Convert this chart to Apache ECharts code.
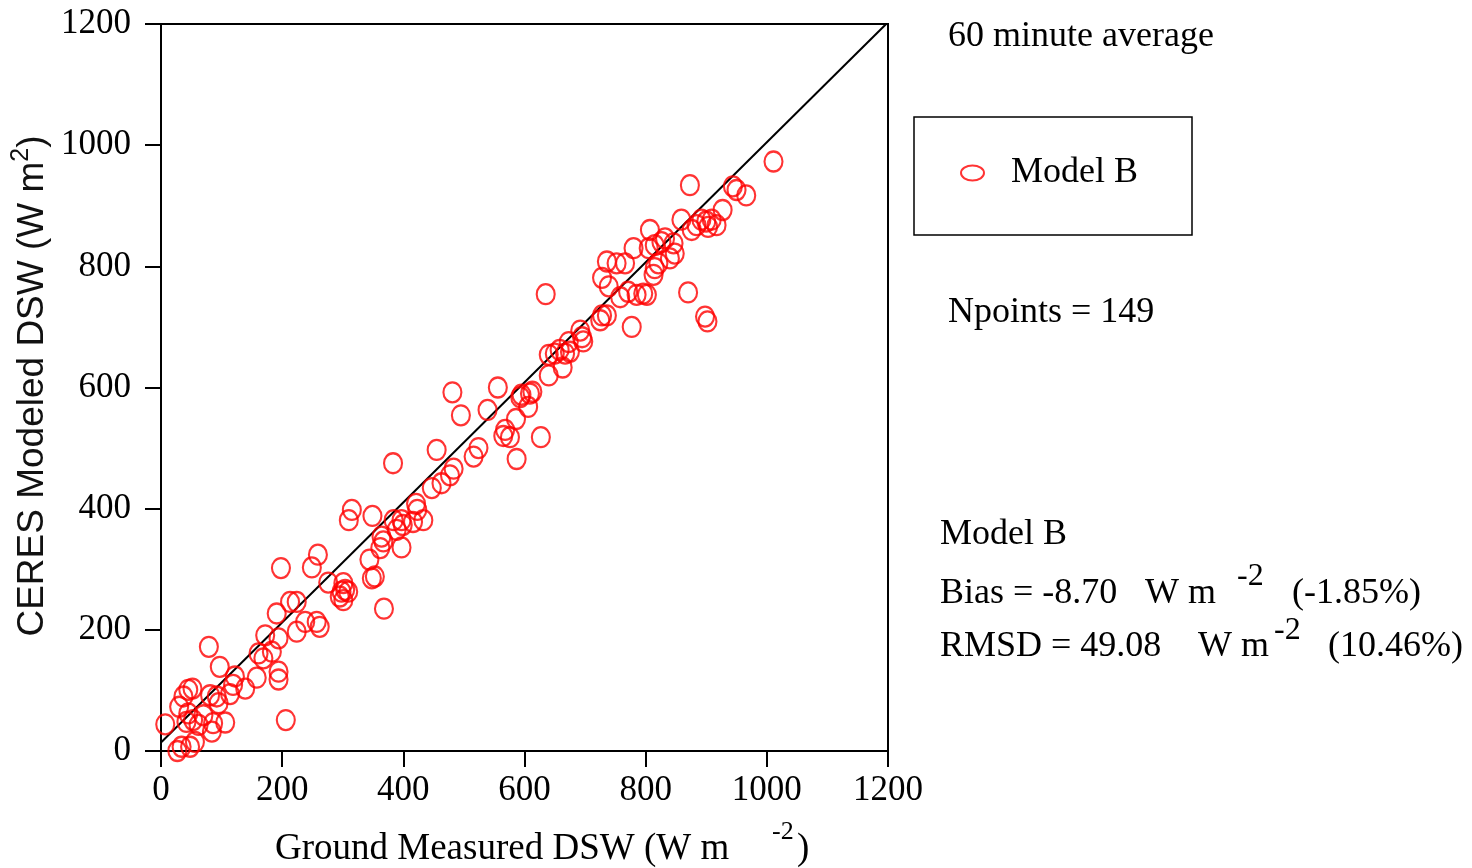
<!DOCTYPE html>
<html>
<head>
<meta charset="UTF-8">
<title>CERES DSW vs Ground</title>
<script src="https://cdn.jsdelivr.net/npm/echarts@6/dist/echarts.min.js"></script>
<style>
	html, body{
		margin:0;
		padding:0;
		background:#fff;
	}
	#chart{
		width:1472px;
		height:868px;
	}
</style>
</head>
<body>
<div id="chart"></div>
<script>
// ground measured DSW (x) and CERES modeled DSW (y), W m-2
var ground = [
	7, 27, 34, 48, 56, 30, 45, 52, 37, 45, 53, 42, 62, 70, 84, 86, 106, 81, 92, 95,
	114, 119, 122, 97, 79, 139, 158, 194, 194, 206, 161, 169, 183, 172, 194, 191, 224, 238, 257, 262,
	213, 224, 198, 249, 259, 276, 301, 304, 298, 309, 301, 295, 315, 310, 349, 384, 397, 399, 389, 416,
	421, 423, 433, 364, 367, 362, 397, 344, 348, 353, 368, 383, 455, 483, 477, 463, 447, 524, 516, 481,
	556, 495, 539, 595, 609, 613, 606, 586, 568, 565, 576, 627, 587, 593, 640, 650, 658, 667, 675, 663,
	640, 697, 692, 695, 673, 635, 725, 728, 736, 777, 728, 739, 752, 766, 736, 758, 771, 785, 796, 802,
	870, 898, 902, 780, 805, 807, 813, 815, 821, 840, 848, 846, 815, 826, 832, 859, 876, 884, 892, 900,
	903, 909, 917, 927, 944, 950, 966, 873, 1011
];
var ceres = [
	44, 0, 7, 7, 15, 73, 101, 103, 90, 62, 51, 48, 43, 59, 32, 46, 47, 92, 90, 79,
	94, 109, 123, 139, 172, 103, 121, 131, 118, 51, 161, 153, 164, 191, 186, 227, 197, 213, 213, 205,
	246, 246, 302, 303, 324, 278, 277, 266, 263, 263, 249, 255, 398, 381, 388, 381, 381, 373, 365, 378,
	408, 398, 381, 354, 346, 335, 336, 316, 285, 288, 235, 475, 497, 466, 455, 442, 434, 500, 486, 592,
	600, 554, 563, 588, 590, 593, 568, 548, 530, 520, 518, 518, 482, 584, 654, 656, 662, 656, 659, 633,
	620, 676, 694, 683, 675, 754, 711, 719, 719, 700, 781, 767, 805, 805, 808, 749, 758, 753, 755, 753,
	757, 717, 709, 830, 830, 860, 786, 797, 805, 813, 821, 838, 835, 840, 846, 877, 860, 868, 877, 874,
	865, 877, 868, 893, 932, 926, 917, 934, 973
];
// 1:1 reference line as drawn
var refLineX = [0, 1197];
var refLineY = [14, 1200];

var seriesName = 'Model B';
var serif = 'Liberation Serif';
var ellipse = 'path://M0,10A10,10,0,1,1,20,10A10,10,0,1,1,0,10Z';

var points = [];
for(var i=0;i<ground.length;i++){
	points.push([ground[i], ceres[i]]);
}
var refLine = [];
for(var j=0;j<refLineX.length;j++){
	refLine.push([refLineX[j], refLineY[j]]);
}

function axisCfg(margin){
	return {
		type:'value',
		min:0,
		max:1200,
		interval:200,
		axisLine:{show:true, onZero:false, lineStyle:{color:'#000', width:2}},
		axisTick:{show:true, inside:false, length:16, lineStyle:{color:'#000', width:2}},
		axisLabel:{
			margin:margin,
			fontSize:35,
			fontFamily:serif,
			color:'#000',
			formatter:function(v){ return String(v); }
		},
		splitLine:{show:false}
	};
}

function txt(str, x, y, size, family){
	return {
		type:'text',
		x:x,
		y:y,
		silent:true,
		style:{
			text:str,
			fontSize:size,
			fontFamily:family || serif,
			fill:'#000',
			verticalAlign:'middle'
		}
	};
}

var chart = echarts.init(document.getElementById('chart'));
var option = {
	animation:false,
	backgroundColor:'#fff',
	grid:{
		left:161,
		top:24,
		width:727,
		height:727,
		show:true,
		borderColor:'#000',
		borderWidth:2,
		backgroundColor:'transparent'
	},
	xAxis:axisCfg(22),
	yAxis:axisCfg(30),
	legend:{
		data:[{name:seriesName, icon:ellipse}],
		left:960,
		top:155,
		padding:0,
		itemWidth:23,
		itemHeight:15,
		symbolKeepAspect:false,
		selectedMode:false,
		itemStyle:{borderWidth:2},
		textStyle:{fontSize:36, fontFamily:serif, color:'#000', padding:[0,0,0,22]}
	},
	graphic:[
		{
			type:'rect',
			shape:{x:914, y:117, width:278, height:118},
			style:{fill:'none', stroke:'#000', lineWidth:1.5},
			silent:true
		},
		txt('60 minute average', 948, 37, 36),
		txt('Npoints = 149', 948, 313, 36),
		txt('Model B', 940, 535, 36),
		txt('Bias = -8.70', 940, 594, 36),
		txt('W m', 1145, 594, 36),
		txt('-2', 1237, 577, 32),
		txt('(-1.85%)', 1292, 594, 36),
		txt('RMSD = 49.08', 940, 647, 36),
		txt('W m', 1198, 647, 36),
		txt('-2', 1274, 631, 32),
		txt('(10.46%)', 1328, 647, 36),
		txt('Ground Measured DSW (W m', 275, 849, 37),
		txt('-2', 772, 832, 26),
		txt(')', 797, 849, 37),
		{
			type:'text',
			x:30,
			y:386,
			rotation:Math.PI/2,
			silent:true,
			style:{
				text:'{a|CERES Modeled DSW (W m}{s|2}{a|)}',
				align:'center',
				verticalAlign:'middle',
				fill:'#111',
				rich:{
					a:{fontSize:37, fontFamily:'Liberation Sans', fill:'#111', verticalAlign:'bottom', lineHeight:42},
					s:{fontSize:25, fontFamily:'Liberation Sans', fill:'#111', verticalAlign:'top', lineHeight:42}
				}
			}
		}
	],
	series:[
		{
			name:'1:1',
			type:'line',
			data:refLine,
			symbol:'none',
			silent:true,
			lineStyle:{color:'#000', width:2},
			z:1
		},
		{
			name:seriesName,
			type:'scatter',
			data:points,
			symbol:ellipse,
			symbolSize:[18,20],
			symbolKeepAspect:false,
			itemStyle:{color:'rgba(0,0,0,0)', borderColor:'#ff0000', borderWidth:2.2},
			emphasis:{disabled:true},
			z:2
		}
	]
};
chart.setOption(option);
</script>
</body>
</html>
